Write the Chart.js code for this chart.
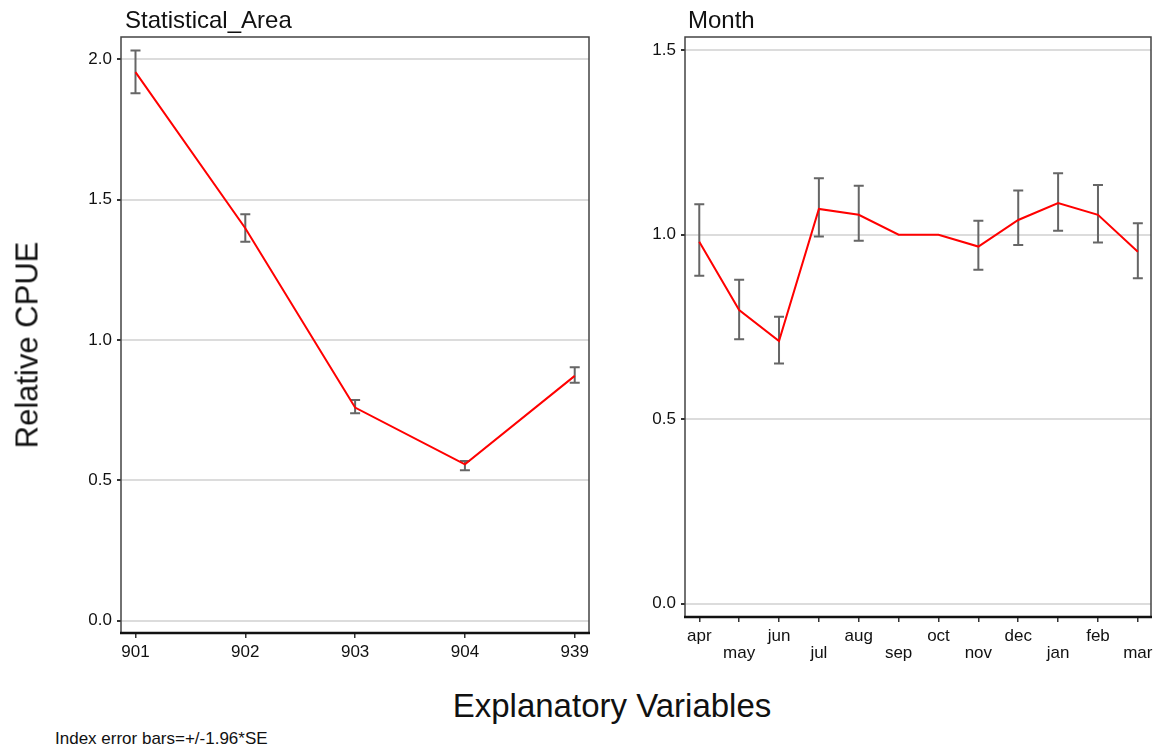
<!DOCTYPE html>
<html>
<head>
<meta charset="utf-8">
<script src="https://cdn.jsdelivr.net/npm/chart.js@4.4.0/dist/chart.umd.min.js"></script>
<style>
    body { margin: 0; background: #fff; font-family: "Liberation Sans", Arial, sans-serif; color: #111; }
    #wrap { position: relative; width: 1159px; height: 749px; overflow: hidden; }
    canvas { position: absolute; top: 0; }
    .txt { position: absolute; white-space: nowrap; }
</style>
</head>
<body>
<div id="wrap">
    <canvas id="chart-area" width="600" height="680" style="left:0"></canvas>
    <canvas id="chart-month" width="529" height="680" style="left:630px"></canvas>
    <div class="txt" style="left:125px; top:8px; font-size:24px; line-height:24px;">Statistical_Area</div>
    <div class="txt" style="left:688px; top:8px; font-size:24px; line-height:24px;">Month</div>
    <div class="txt" style="left:27px; top:345px; font-size:31px; line-height:31px; transform: translate(-50%,-50%) rotate(-90deg);">Relative CPUE</div>
    <div class="txt" style="left:612px; top:705px; font-size:33px; line-height:33px; transform: translate(-50%,-50%);">Explanatory Variables</div>
    <div class="txt" style="left:55px; top:730px; font-size:17px; line-height:17px;">Index error bars=+/-1.96*SE</div>
</div>

<script>
// Datos: panel Statistical_Area
const areaCategorias = ["901", "902", "903", "904", "939"];
const areaValores = [1.954, 1.398, 0.759, 0.557, 0.872];
const areaInferior = [1.879, 1.350, 0.739, 0.536, 0.847];
const areaSuperior = [2.031, 1.448, 0.786, 0.569, 0.903];
const areaTicksY = [0.0, 0.5, 1.0, 1.5, 2.0];

// Datos: panel Month (sep y oct son la referencia, sin barras)
const mesCategorias = ["apr", "may", "jun", "jul", "aug", "sep", "oct", "nov", "dec", "jan", "feb", "mar"];
const mesValores = [0.981, 0.796, 0.712, 1.070, 1.054, 1.0, 1.0, 0.968, 1.040, 1.086, 1.054, 0.954];
const mesInferior = [0.889, 0.717, 0.651, 0.995, 0.984, null, null, 0.905, 0.972, 1.011, 0.979, 0.882];
const mesSuperior = [1.083, 0.878, 0.778, 1.153, 1.133, null, null, 1.038, 1.120, 1.167, 1.135, 1.031];
const mesTicksY = [0.0, 0.5, 1.0, 1.5];

const FUENTE = "'Liberation Sans', Arial, sans-serif";

// barras de error con las escalas del grafico
const errorBars = {
    id: "errorBars",
    beforeDatasetsDraw(chart, args, opts) {
        const ctx = chart.ctx;
        const y = chart.scales.y;
        const meta = chart.getDatasetMeta(0);
        ctx.save();
        ctx.strokeStyle = "#666";
        ctx.lineWidth = 2;
        meta.data.forEach((pt, i) => {
            const lo = opts.lo[i], hi = opts.hi[i];
            if (lo == null || hi == null) return;
            const y1 = y.getPixelForValue(lo);
            const y2 = y.getPixelForValue(hi);
            ctx.beginPath();
            ctx.moveTo(pt.x, y1); ctx.lineTo(pt.x, y2);
            ctx.moveTo(pt.x - 5, y1); ctx.lineTo(pt.x + 5, y1);
            ctx.moveTo(pt.x - 5, y2); ctx.lineTo(pt.x + 5, y2);
            ctx.stroke();
        });
        ctx.restore();
    }
};

// marco del panel
const marco = {
    id: "marco",
    afterDatasetsDraw(chart) {
        const { ctx, chartArea: a } = chart;
        ctx.save();
        ctx.strokeStyle = "#444";
        ctx.lineWidth = 1.5;
        ctx.beginPath();
        ctx.moveTo(a.left, a.bottom); ctx.lineTo(a.left, a.top);
        ctx.lineTo(a.right, a.top); ctx.lineTo(a.right, a.bottom);
        ctx.stroke();
        ctx.strokeStyle = "#111";
        ctx.lineWidth = 2.5;
        ctx.beginPath();
        ctx.moveTo(a.left - 1, a.bottom); ctx.lineTo(a.right + 1, a.bottom);
        ctx.stroke();
        ctx.restore();
    }
};

function crearPanel(id, cats, vals, lo, hi, ticksY, cfg) {
    const ctx = document.getElementById(id).getContext("2d");
    return new Chart(ctx, {
        type: "line",
        data: {
            datasets: [{
                data: vals.map((v, i) => ({ x: i, y: v })),
                borderColor: "#ff0000",
                borderWidth: 2,
                pointRadius: 0,
                tension: 0,
                fill: false
            }]
        },
        options: {
            responsive: false,
            animation: false,
            layout: { padding: { top: 37, right: cfg.right, left: 0, bottom: 0 } },
            plugins: {
                legend: { display: false },
                tooltip: { enabled: false },
                errorBars: { lo, hi }
            },
            scales: {
                x: {
                    type: "linear",
                    min: cfg.xmin,
                    max: cfg.xmax,
                    afterBuildTicks: s => { s.ticks = cats.map((c, i) => ({ value: i })); },
                    afterFit: s => { s.height = cfg.xh; },
                    grid: { drawOnChartArea: false, drawTicks: true, tickLength: 5, tickColor: "#333", lineWidth: 1.5 },
                    border: { display: false },
                    ticks: {
                        autoSkip: false,
                        maxRotation: 0,
                        padding: cfg.xpad,
                        color: "#111",
                        font: { family: FUENTE, size: 17, lineHeight: 1.0 },
                        callback: v => cfg.alterna
                            ? (v % 2 === 0 ? [cats[v]] : ["", cats[v]])
                            : cats[v]
                    }
                },
                y: {
                    min: cfg.ymin,
                    max: cfg.ymax,
                    afterBuildTicks: s => { s.ticks = ticksY.map(v => ({ value: v })); },
                    afterFit: s => { s.width = cfg.yw; },
                    grid: { color: "#dcdcdc", lineWidth: 2, tickLength: 4, tickColor: "#333" },
                    border: { display: false },
                    ticks: {
                        padding: 5,
                        color: "#111",
                        font: { family: FUENTE, size: 17 },
                        callback: v => v.toFixed(1)
                    }
                }
            }
        },
        plugins: [errorBars, marco]
    });
}

crearPanel("chart-area", areaCategorias, areaValores, areaInferior, areaSuperior, areaTicksY, {
    right: 11, yw: 121, xh: 47, xmin: -0.132, xmax: 4.13, ymin: -0.044, ymax: 2.079, xpad: 6, alterna: false
});

crearPanel("chart-month", mesCategorias, mesValores, mesInferior, mesSuperior, mesTicksY, {
    right: 8, yw: 55, xh: 63, xmin: -0.358, xmax: 11.33, ymin: -0.036, ymax: 1.536, xpad: 6, alterna: true
});
</script>
</body>
</html>
